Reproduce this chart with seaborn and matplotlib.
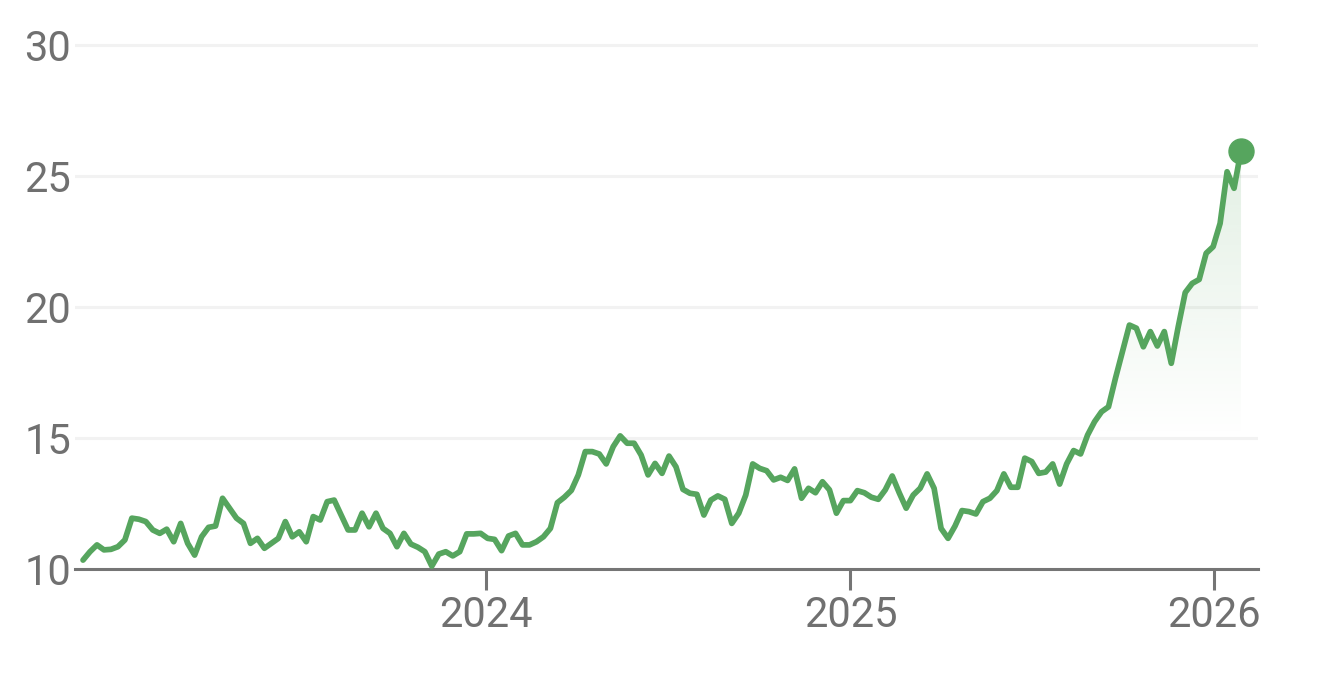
import numpy as np
import pandas as pd
import matplotlib
matplotlib.use("Agg")
import matplotlib.pyplot as plt
import matplotlib.colors as mcolors
import matplotlib.dates as mdates
import seaborn as sns

# ---------- DATA ----------
start_date = "2022-11-23"
prices = [
    10.34, 10.66, 10.92, 10.73, 10.75, 10.85, 11.11, 11.94, 11.90, 11.81,
    11.49, 11.36, 11.52, 11.04, 11.74, 10.98, 10.53, 11.23, 11.59, 11.64,
    12.70, 12.32, 11.94, 11.74, 10.98, 11.17, 10.79, 10.98, 11.17, 11.81,
    11.23, 11.42, 11.04, 12.00, 11.87, 12.57, 12.63, 12.06, 11.49, 11.49,
    12.13, 11.61, 12.13, 11.55, 11.36, 10.85, 11.36, 10.95, 10.83, 10.66,
    10.11, 10.57, 10.66, 10.50, 10.66, 11.34, 11.34, 11.36, 11.17, 11.13,
    10.70, 11.26, 11.36, 10.92, 10.92, 11.04, 11.23, 11.55, 12.53, 12.74,
    13.00, 13.59, 14.48, 14.48, 14.39, 14.01, 14.67, 15.08, 14.80, 14.80,
    14.35, 13.59, 14.03, 13.65, 14.31, 13.90, 13.04, 12.89, 12.85, 12.06,
    12.63, 12.79, 12.66, 11.74, 12.13, 12.82, 14.01, 13.84, 13.75, 13.40,
    13.50, 13.38, 13.82, 12.70, 13.08, 12.91, 13.33, 13.02, 12.13, 12.61,
    12.61, 12.99, 12.91, 12.74, 12.66, 13.02, 13.55, 12.91, 12.32, 12.82,
    13.08, 13.63, 13.08, 11.55, 11.17, 11.64, 12.23, 12.19, 12.10, 12.57,
    12.70, 12.99, 13.63, 13.12, 13.12, 14.23, 14.10, 13.65, 13.70, 14.01,
    13.24, 14.01, 14.52, 14.39, 15.11, 15.62, 16.00, 16.19, 17.28, 18.29,
    19.31, 19.19, 18.48, 19.06, 18.51, 19.06, 17.85, 19.25, 20.55, 20.90,
    21.05, 22.05, 22.30, 23.19, 25.16, 24.53, 25.97,
]
year_ticks = ["2024-01-01", "2025-01-01", "2026-01-01"]
year_labels = ["2024", "2025", "2026"]
y_ticks = [10, 15, 20, 25, 30]

GREEN = "#56a55e"
GRAY = "#757575"

df = pd.DataFrame({
    "date": pd.date_range(start_date, periods=len(prices), freq="7D"),
    "price": prices,
})

# ---------- PLOT ----------
sns.set_style("white")
plt.rcParams["font.family"] = ["Roboto", "DejaVu Sans"]

fig = plt.figure(figsize=(13.26, 7), dpi=100)
ax = fig.add_axes([0.0566, 0.18714, 0.8921, 0.7599])

# soft gradient under the line, fading out towards the bottom
poly = ax.fill_between(df["date"], df["price"], 10, color="none", lw=0)
grad = np.zeros((256, 1, 4))
grad[..., :3] = mcolors.to_rgb(GREEN)
yy = np.linspace(10, 26.5, 256)
grad[:, 0, 3] = 0.17 * np.clip((yy - 15) / 11.0, 0, 1)
x0 = mdates.date2num(df["date"].iloc[0])
x1 = mdates.date2num(df["date"].iloc[-1])
im = ax.imshow(grad, extent=[x0, x1, 10, 26.5], origin="lower",
               aspect="auto", zorder=1)
im.set_clip_path(poly.get_paths()[0], ax.transData)

sns.lineplot(data=df, x="date", y="price", ax=ax, color=GREEN,
             linewidth=4.1, zorder=3)
ax.lines[-1].set_solid_joinstyle("round")
ax.plot(df["date"].iloc[-1], df["price"].iloc[-1], "o", ms=18,
        color=GREEN, zorder=4)

ax.set_xlim(pd.Timestamp("2022-11-15"), pd.Timestamp("2026-02-14"))
ax.set_ylim(10, 30.3)

ax.set_xticks(pd.to_datetime(year_ticks))
ax.set_xticklabels(year_labels)
ax.set_yticks(y_ticks)
ax.set_yticklabels([str(v) for v in y_ticks])
ax.set_xlabel("")
ax.set_ylabel("")

# seaborn "white" style hides tick marks, turn the x ones back on
ax.tick_params(axis="x", bottom=True, direction="out", length=15, width=2.2,
               color=GRAY, labelsize=30, labelcolor="#707070", pad=4)
ax.tick_params(axis="y", left=False, length=0, labelsize=30,
               labelcolor="#707070", pad=3)

ax.yaxis.grid(True, color="#f2f2f2", lw=2.2)
ax.xaxis.grid(False)
ax.set_axisbelow(True)

for side in ["top", "right", "left"]:
    ax.spines[side].set_visible(False)
ax.spines["bottom"].set_color(GRAY)
ax.spines["bottom"].set_linewidth(2.2)

fig.savefig("out.png", dpi=100)
